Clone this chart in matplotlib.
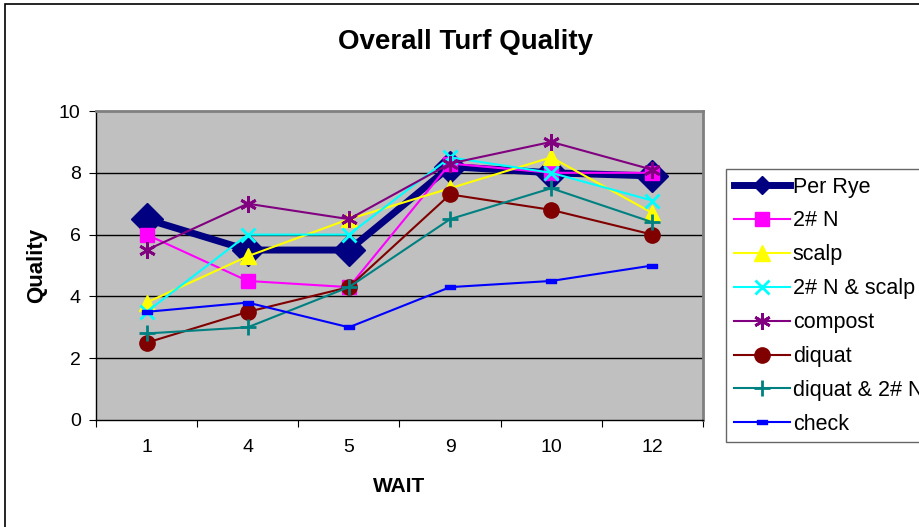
import numpy as np
import matplotlib.pyplot as plt
from matplotlib.path import Path
from matplotlib.patches import Rectangle

plt.rcParams['font.family'] = ['Liberation Sans', 'DejaVu Sans']

weeks = ['1', '4', '5', '9', '10', '12']

per_rye = [6.5, 5.5, 5.5, 8.2, 8.0, 7.9]
n2 = [6.0, 4.5, 4.3, 8.3, 8.0, 8.0]
scalp = [3.8, 5.3, 6.5, 7.5, 8.5, 6.7]
n2_scalp = [3.5, 6.0, 6.0, 8.5, 8.0, 7.1]
compost = [5.5, 7.0, 6.5, 8.3, 9.0, 8.1]
diquat = [2.5, 3.5, 4.3, 7.3, 6.8, 6.0]
diquat_n2 = [2.8, 3.0, 4.3, 6.5, 7.5, 6.4]
check = [3.5, 3.8, 3.0, 4.3, 4.5, 5.0]

# small flat bar used as the "check" marker
dash = Path([(-1, -0.5), (1, -0.5), (1, 0.5), (-1, 0.5), (-1, -0.5)],
            [Path.MOVETO, Path.LINETO, Path.LINETO, Path.LINETO, Path.CLOSEPOLY])

series = [
    ('Per Rye', per_rye, '#000080', 'D', 16, 5),
    ('2# N', n2, '#FF00FF', 's', 10.5, 1.5),
    ('scalp', scalp, '#FFFF00', '^', 11, 1.5),
    ('2# N & scalp', n2_scalp, '#00FFFF', 'x', 10, 1.5),
    ('compost', compost, '#800080', (6, 2, 0), 12, 1.5),
    ('diquat', diquat, '#800000', 'o', 11, 1.5),
    ('diquat & 2# N', diquat_n2, '#008080', '+', 11, 1.5),
    ('check', check, '#0000FF', dash, 7, 1.5),
]

fig = plt.figure(figsize=(9.19, 5.27), dpi=100)
ax = fig.add_axes([96 / 919, 107 / 527, 607 / 919, 309 / 527])
ax.set_facecolor('#C0C0C0')

x = np.arange(len(weeks))
for i, (name, vals, col, mk, ms, lw) in enumerate(series):
    thin = mk in ('x', '+') or isinstance(mk, tuple)
    ax.plot(x, vals, color=col, marker=mk, markersize=ms, linewidth=lw,
            markeredgecolor=col, markerfacecolor=col, markeredgewidth=2 if thin else 1,
            label=name, zorder=3 + i, clip_on=False)

ax.set_xlim(-0.5, len(weeks) - 0.5)
ax.set_ylim(0, 10)
ax.set_yticks(np.arange(0, 11, 2))
ax.tick_params(axis='y', direction='out', length=5, labelsize=14, color='black', pad=6)
ax.set_xticks(np.arange(-0.5, len(weeks), 1))
ax.set_xticklabels([])
ax.set_xticks(x, minor=True)
ax.set_xticklabels(weeks, minor=True)
ax.tick_params(axis='x', which='major', direction='out', length=5, color='black')
ax.tick_params(axis='x', which='minor', length=0, labelsize=14, pad=14)

for yv in (2, 4, 6, 8):
    ax.axhline(yv, color='black', linewidth=1, zorder=1)

for s in ('top', 'right'):
    ax.spines[s].set_color('#808080')
    ax.spines[s].set_linewidth(2)
for s in ('left', 'bottom'):
    ax.spines[s].set_color('black')
    ax.spines[s].set_linewidth(1)

fig.text(399 / 919, 1 - 487 / 527, 'WAIT', fontsize=15, fontweight='bold',
         ha='center', va='center')
fig.text(37 / 919, 1 - 265 / 527, 'Quality', fontsize=16, fontweight='bold',
         ha='center', va='center', rotation=90)
fig.text(465 / 919, 1 - 42 / 527, 'Overall Turf Quality', fontsize=20,
         fontweight='bold', ha='center', va='center')

leg = ax.legend(loc='upper left', bbox_to_anchor=(726 / 919, 1 - 169 / 527),
                bbox_transform=fig.transFigure, fontsize=15.5, frameon=True,
                fancybox=False, borderaxespad=0, handlelength=2.6,
                handletextpad=0.15, labelspacing=0.6, borderpad=0.35)
leg.get_frame().set_edgecolor('#404040')
leg.get_frame().set_linewidth(1)
leg.legend_handles[0].set_markersize(9)

# chart border
fig.patches.append(Rectangle((5 / 919, -0.1), 1.2, 1.1 - 4 / 527, transform=fig.transFigure,
                             fill=False, edgecolor='black', linewidth=1.2))

fig.savefig('out.png', dpi=100)
